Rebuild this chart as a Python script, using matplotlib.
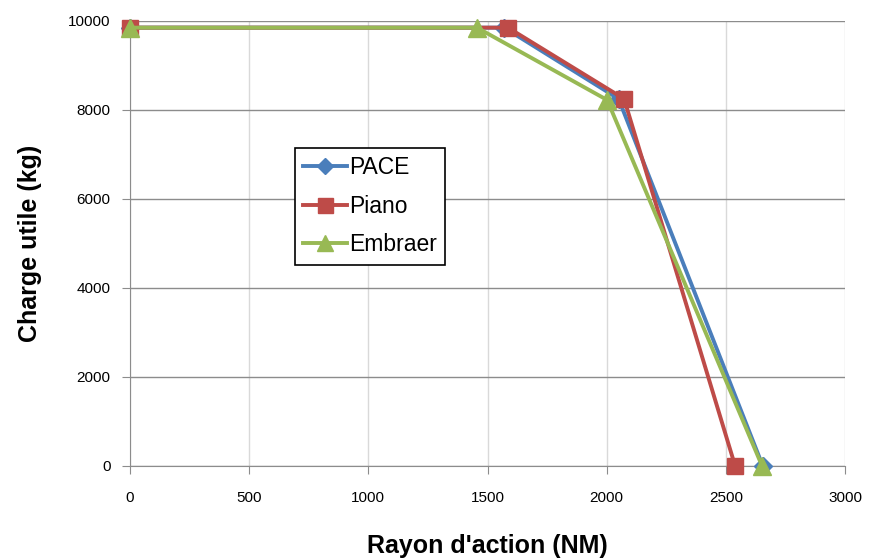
import matplotlib
matplotlib.use("Agg")
import matplotlib.pyplot as plt

plt.rcParams['font.family'] = ['Liberation Sans', 'DejaVu Sans']

pace_x = [0, 1570, 2050, 2655]
pace_y = [9850, 9850, 8250, 0]
piano_x = [0, 1586, 2073, 2539]
piano_y = [9850, 9850, 8250, 0]
emb_x = [0, 1456, 2002, 2652]
emb_y = [9850, 9850, 8225, 0]

fig = plt.figure(figsize=(8.69, 5.58), dpi=100)
ax = fig.add_axes([0.1496, 0.1649, 0.8228, 0.7975])

ax.plot(pace_x, pace_y, color='#4a7ebb', lw=2.8, marker='D', ms=9, label='PACE', zorder=3, clip_on=False)
ax.plot(piano_x, piano_y, color='#be4b48', lw=2.8, marker='s', ms=12, label='Piano', zorder=4, clip_on=False)
ax.plot(emb_x, emb_y, color='#98b954', lw=2.8, marker='^', ms=13, label='Embraer', zorder=5, clip_on=False)

ax.set_xlim(0, 3000)
ax.set_ylim(0, 10000)
ax.set_xticks(range(0, 3001, 500))
ax.set_yticks(range(0, 10001, 2000))
ax.grid(True, axis='y', color='#8c8c8c', lw=1)
ax.grid(True, axis='x', color='#d9d9d9', lw=1)
ax.set_axisbelow(True)
for s in ['top', 'right']:
    ax.spines[s].set_visible(False)
for s in ['left', 'bottom']:
    ax.spines[s].set_color('#8c8c8c')
ax.tick_params(axis='both', colors='#8c8c8c', labelcolor='black', labelsize=11, length=6, direction='out')
ax.tick_params(axis='x', pad=12)
ax.tick_params(axis='y', pad=8)

ax.set_xlabel("Rayon d'action (NM)", fontsize=18, fontweight='bold', labelpad=21)
ax.set_ylabel("Charge utile (kg)", fontsize=18, fontweight='bold', labelpad=19)

leg = ax.legend(loc='upper left', bbox_to_anchor=(0.2308, 0.7146), fontsize=16.5, frameon=True,
                fancybox=False, edgecolor='black', framealpha=1, handlelength=1.9,
                handletextpad=0.1, borderpad=0.36, labelspacing=0.68, borderaxespad=0,
                markerscale=0.9)
leg.get_frame().set_linewidth(1.2)

fig.savefig('out.png', dpi=100)
